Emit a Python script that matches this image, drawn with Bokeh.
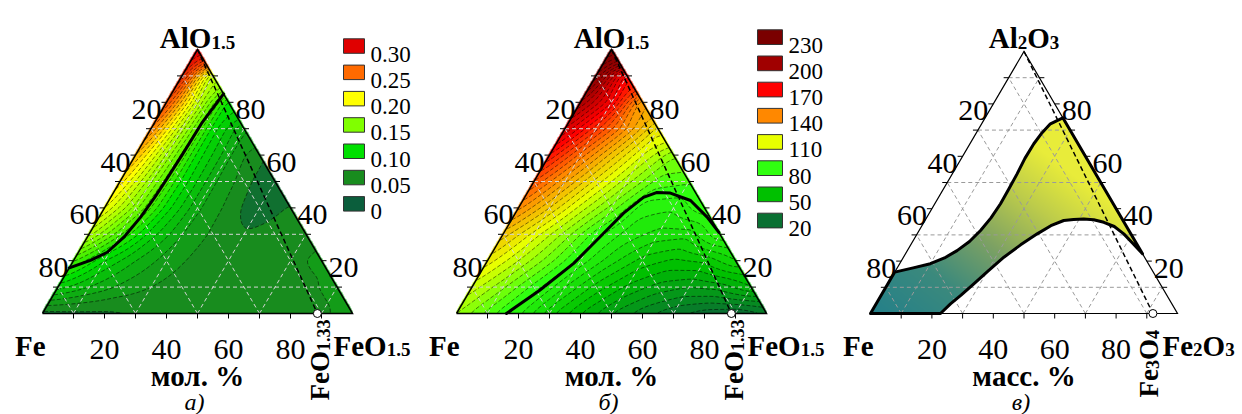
import numpy as np
from bokeh.plotting import figure
from bokeh.models import Range1d
from bokeh.embed import file_html
from bokeh.resources import INLINE
from bokeh.core.properties import value

# ---------------- data ----------------
TICK_LABELS = [20, 40, 60, 80]
GRID_FRACTIONS = [0.1, 0.3, 0.5, 0.7, 0.9]
TICK_FRACTIONS = [0.1, 0.2, 0.3, 0.4, 0.5, 0.6, 0.7, 0.8, 0.9]

# panel (a): field read at nodes; rows = AlO1.5 fraction 0.0 .. 1.0,
# entries = FeO1.5 fraction 0.0 .. (1 - AlO1.5)
A_FIELD_ROWS = [
    [0.045, 0.047, 0.048, 0.050, 0.052, 0.052, 0.052, 0.052, 0.053, 0.058, 0.065],
    [0.095, 0.080, 0.068, 0.060, 0.056, 0.055, 0.055, 0.055, 0.058, 0.063],
    [0.132, 0.100, 0.080, 0.065, 0.057, 0.055, 0.055, 0.058, 0.062],
    [0.175, 0.132, 0.095, 0.070, 0.058, 0.052, 0.055, 0.059],
    [0.202, 0.155, 0.105, 0.072, 0.057, 0.040, 0.052],
    [0.217, 0.162, 0.107, 0.072, 0.055, 0.036],
    [0.232, 0.168, 0.106, 0.072, 0.050],
    [0.252, 0.175, 0.105, 0.070],
    [0.272, 0.182, 0.105],
    [0.292, 0.172],
    [0.310],
]
A_LEGEND_LABELS = ["0.30", "0.25", "0.20", "0.15", "0.10", "0.05", "0"]
A_LEGEND_VALUES = [0.30, 0.25, 0.20, 0.15, 0.10, 0.05, 0.0]
A_LEGEND_COLORS = ["#e00000", "#ff6a00", "#ffff00", "#80ff00", "#00e000", "#188c1e", "#0b5e3c"]
A_LEVEL_STEP = 0.01
A_LOW_BAND_VALUE = 0.02
A_THICK_AL = [0.173, 0.201, 0.232, 0.289, 0.365, 0.441, 0.504, 0.600, 0.720, 0.832]
A_THICK_FEO15 = [0.000, 0.054, 0.093, 0.118, 0.134, 0.142, 0.146, 0.150, 0.153, 0.168]

# panel (b)
B_FIELD_ROWS = [
    [100, 88, 76, 62, 50, 40, 32, 26, 22, 20, 25],
    [108, 96, 83, 70, 58, 49, 43, 40, 42, 50],
    [118, 105, 92, 78, 67, 58, 54, 56, 65],
    [128, 113, 98, 82, 73, 68, 67, 80],
    [142, 125, 108, 93, 77, 76, 84],
    [155, 136, 118, 102, 88, 86],
    [170, 148, 128, 110, 96],
    [185, 162, 140, 118],
    [200, 176, 135],
    [215, 170],
    [230],
]
B_LEGEND_LABELS = ["230", "200", "170", "140", "110", "80", "50", "20"]
B_LEGEND_VALUES = [230, 200, 170, 140, 110, 80, 50, 20]
B_LEGEND_COLORS = ["#7a0000", "#a00000", "#ff0000", "#ff8800", "#e8ff00", "#30ff10", "#00c000", "#0a7032"]
B_LEVEL_STEP = 5
B_THICK_AL = [0.000, 0.087, 0.190, 0.288, 0.380, 0.440, 0.458, 0.456, 0.428, 0.365, 0.307]
B_THICK_FEO15 = [0.161, 0.224, 0.283, 0.317, 0.349, 0.383, 0.416, 0.462, 0.541, 0.626, 0.693]

# panel (c): region boundary (mass fractions Al2O3, Fe2O3)
C_UPPER_AL = [0.158, 0.175, 0.190, 0.212, 0.240, 0.275, 0.317, 0.365, 0.419, 0.475, 0.533,
              0.592, 0.648, 0.690, 0.724, 0.747]
C_UPPER_FE2O3 = [0.000, 0.055, 0.100, 0.135, 0.162, 0.185, 0.200, 0.210, 0.214, 0.213, 0.211,
                 0.207, 0.208, 0.214, 0.224, 0.253]
C_LOWER_AL = [0.228, 0.268, 0.304, 0.332, 0.348, 0.358, 0.361, 0.359, 0.355, 0.335, 0.304,
              0.262, 0.215, 0.163, 0.113, 0.070, 0.037, 0.000]
C_LOWER_FE2O3 = [0.772, 0.720, 0.673, 0.628, 0.586, 0.548, 0.514, 0.482, 0.452, 0.420, 0.391,
                 0.358, 0.327, 0.302, 0.280, 0.260, 0.242, 0.228]
C_CORNER_VALUES = {"Al2O3": 1.3, "Fe2O3": 0.8, "Fe": 0.0}
C_STOPS = [0.0, 0.3, 0.55, 0.8, 1.0]
C_STOP_COLORS = ["#24808a", "#3c8a7d", "#7da264", "#becd4b", "#e8ec3a"]

FEO133 = 1.33 / 1.5     # FeO1.33 on Fe-FeO1.5 side
FE3O4 = 0.92            # Fe3O4 on Fe-Fe2O3 side (mass)

# ---------------- geometry ----------------
WIDTH, HEIGHT = 1242, 414
BASE = 414 - 313
PANELS = [dict(x0=42.0, W=310.0, H=264.0),
          dict(x0=456.0, W=310.0, H=264.0),
          dict(x0=870.0, W=307.0, H=262.0)]


def Y(ypix):
    return HEIGHT - ypix


def tx(P, a, b):
    return P["x0"] + P["W"] * (np.asarray(b, float) + np.asarray(a, float) / 2.0)


def ty(P, a):
    return BASE + P["H"] * np.asarray(a, float)


def hex2rgb(h):
    h = h.lstrip("#")
    return [int(h[i:i + 2], 16) for i in (0, 2, 4)]


def cmap(v, stops, colors):
    rgb = np.array([hex2rgb(c) for c in colors], float)
    order = np.argsort(stops)
    s = np.asarray(stops, float)[order]
    rgb = rgb[order]
    return np.stack([np.interp(v, s, rgb[:, k]) for k in range(3)], axis=-1)


def node_grid(rows):
    n = len(rows)
    G = np.zeros((n, n))
    for i, row in enumerate(rows):
        for j in range(n):
            G[i, j] = row[min(j, len(row) - 1)]
    return G


def field(G, a, b):
    n = G.shape[0] - 1
    ai = np.clip(a, 0, 1) * n
    bi = np.clip(b, 0, 1) * n
    i0 = np.clip(np.floor(ai).astype(int), 0, n - 1)
    j0 = np.clip(np.floor(bi).astype(int), 0, n - 1)
    fa = ai - i0
    fb = bi - j0
    return (G[i0, j0] * (1 - fa) * (1 - fb) + G[i0 + 1, j0] * fa * (1 - fb)
            + G[i0, j0 + 1] * (1 - fa) * fb + G[i0 + 1, j0 + 1] * fa * fb)


def blur(Z, s):
    r = int(3 * s)
    k = np.exp(-0.5 * (np.arange(-r, r + 1) / s) ** 2)
    k /= k.sum()
    Zp = np.pad(Z, r, mode="edge")
    Z1 = np.apply_along_axis(lambda v: np.convolve(v, k, mode="valid"), 1, Zp)
    return np.apply_along_axis(lambda v: np.convolve(v, k, mode="valid"), 0, Z1)


def pixel_grid(P):
    nx = int(round(P["W"]))
    ny = int(round(P["H"]))
    xs = P["x0"] + 0.5 + np.arange(nx)
    ys = BASE + 0.5 + np.arange(ny)
    X, Yg = np.meshgrid(xs, ys)
    a = (Yg - BASE) / P["H"]
    b = (X - P["x0"]) / P["W"] - a / 2.0
    return xs, ys, a, b, nx, ny


def rgba_image(rgb, alpha_mask):
    ny, nx = alpha_mask.shape
    img = np.zeros((ny, nx), dtype=np.uint32)
    view = img.view(dtype=np.uint8).reshape((ny, nx, 4))
    view[..., 0] = np.clip(rgb[..., 0], 0, 255).astype(np.uint8)
    view[..., 1] = np.clip(rgb[..., 1], 0, 255).astype(np.uint8)
    view[..., 2] = np.clip(rgb[..., 2], 0, 255).astype(np.uint8)
    view[..., 3] = np.where(alpha_mask, 255, 0).astype(np.uint8)
    return img


def inside_poly(px, py, vx, vy):
    inside = np.zeros(px.shape, bool)
    n = len(vx)
    j = n - 1
    for i in range(n):
        xi, yi, xj, yj = vx[i], vy[i], vx[j], vy[j]
        cond = ((yi > py) != (yj > py)) & (px < (xj - xi) * (py - yi) / (yj - yi + 1e-12) + xi)
        inside ^= cond
        j = i
    return inside


p = figure(width=WIDTH, height=HEIGHT, x_range=Range1d(0, WIDTH), y_range=Range1d(0, HEIGHT),
           output_backend="svg", toolbar_location=None, x_axis_location=None,
           y_axis_location=None, min_border=0)
p.grid.visible = False
p.outline_line_color = None
p.background_fill_color = "white"
p.border_fill_color = "white"

FONT = value("Liberation Serif")
W_BOLD = {"A": 0.722, "l": 0.278, "O": 0.778, "F": 0.611, "e": 0.444, ".": 0.25}


def tw(s, size):
    return sum(W_BOLD.get(ch, 0.5) for ch in s) * size


def txt(x, y, s, size, style="normal", align="left", baseline="alphabetic", angle=0.0):
    p.text(x=[x], y=[y], text=[s], text_font=FONT, text_font_size=f"{size}px",
           text_font_style=style, text_align=align, text_baseline=baseline,
           angle=angle, text_color="black")


def compound(x, ybase_pix, pieces, main=29, sub=19, drop=5, center=True):
    total = sum(tw(t, sub if s else main) for t, s in pieces)
    cur = x - total / 2.0 if center else x
    for t, s in pieces:
        size = sub if s else main
        txt(cur, Y(ybase_pix + (drop if s else 0)), t, size, style="bold")
        cur += tw(t, size)


def compound_rot(xbase, ystart_pix, pieces, main=27, sub=18, drop=4):
    cur = Y(ystart_pix)
    for t, s in pieces:
        size = sub if s else main
        txt(xbase + (drop if s else 0), cur, t, size, style="bold", angle=np.pi / 2)
        cur += tw(t, size)


# ---------------- fills and contours ----------------
for idx, (rows, stops, colors, step, lowest) in enumerate([
        (A_FIELD_ROWS, A_LEGEND_VALUES, A_LEGEND_COLORS, A_LEVEL_STEP, 0.05),
        (B_FIELD_ROWS, B_LEGEND_VALUES, B_LEGEND_COLORS, B_LEVEL_STEP, 20)]):
    P = PANELS[idx]
    G = node_grid(rows)
    xs, ys, a, b, nx, ny = pixel_grid(P)
    Z = blur(field(G, a, b), 3.0)
    top = max(stops) + 2 * step
    levels = np.arange(lowest, top + step / 2, step)
    if idx == 0:
        band_levels = np.concatenate([[-1.0], levels])
        band_colors = np.concatenate([[A_LOW_BAND_VALUE], levels])
    else:
        band_levels = levels
        band_colors = levels
    bi_ = np.clip(np.searchsorted(band_levels, Z, side="right") - 1, 0, len(band_levels) - 1)
    rgb = cmap(band_colors[bi_], stops, colors)
    loose = (a >= -0.004) & (b >= -0.005) & (a + b <= 1.005)
    p.image_rgba(image=[rgba_image(rgb, loose)], x=P["x0"], y=BASE, dw=nx, dh=ny)
    strict = (a >= 0) & (b >= 0) & (a + b <= 1)
    Zc = np.where(strict, Z, np.nan)
    line_levels = list(levels[1:]) if idx == 1 else list(levels)
    p.contour(x=xs, y=ys, z=Zc, levels=line_levels, line_color="black",
              line_width=0.6, line_dash="4 2", line_alpha=0.85)

# panel (c) gradient region
Pc = PANELS[2]
xs, ys, a, b, nx, ny = pixel_grid(Pc)
c_ = 1 - a - b
vfield = C_CORNER_VALUES["Al2O3"] * a + C_CORNER_VALUES["Fe2O3"] * b + C_CORNER_VALUES["Fe"] * c_
rgb = cmap(vfield, C_STOPS, C_STOP_COLORS)
poly_a = list(C_UPPER_AL) + list(C_LOWER_AL) + [0.0]
poly_b = list(C_UPPER_FE2O3) + list(C_LOWER_FE2O3) + [0.0]
pvx = tx(Pc, poly_a, poly_b)
pvy = ty(Pc, poly_a)
X, Yg = np.meshgrid(xs, ys)
mask_c = inside_poly(X, Yg, pvx, pvy)
p.image_rgba(image=[rgba_image(rgb, mask_c)], x=Pc["x0"], y=BASE, dw=nx, dh=ny)

# ---------------- grids, edges, ticks ----------------
for idx, P in enumerate(PANELS):
    gx, gy = [], []
    for f in GRID_FRACTIONS:
        gx.append([float(tx(P, f, 0)), float(tx(P, f, 1 - f))]); gy.append([float(ty(P, f))] * 2)
        gx.append([float(tx(P, 0, f)), float(tx(P, 1 - f, f))]); gy.append([float(ty(P, 0)), float(ty(P, 1 - f))])
        gx.append([float(tx(P, 0, 1 - f)), float(tx(P, 1 - f, 0))]); gy.append([float(ty(P, 0)), float(ty(P, 1 - f))])
    gcol = "#d4d4d4" if idx < 2 else "#9a9a9a"
    p.multi_line(xs=gx, ys=gy, line_color=gcol, line_width=1, line_dash="4 3")

# thick curves
p.line(x=tx(PANELS[0], A_THICK_AL, A_THICK_FEO15), y=ty(PANELS[0], A_THICK_AL),
       line_color="black", line_width=3, line_join="round", line_cap="round")
p.line(x=tx(PANELS[1], B_THICK_AL, B_THICK_FEO15), y=ty(PANELS[1], B_THICK_AL),
       line_color="black", line_width=3, line_join="round", line_cap="round")

# dashed joins apex -> FeO1.33 / Fe3O4
for P, frac in [(PANELS[0], FEO133), (PANELS[1], FEO133), (PANELS[2], FE3O4)]:
    p.line(x=[float(tx(P, 1, 0)), float(tx(P, 0, frac))], y=[float(ty(P, 1)), float(ty(P, 0))],
           line_color="black", line_width=1.5, line_dash="5 3")

for idx, P in enumerate(PANELS):
    ex = [float(tx(P, 0, 0)), float(tx(P, 0, 1)), float(tx(P, 1, 0)), float(tx(P, 0, 0))]
    ey = [float(ty(P, 0)), float(ty(P, 0)), float(ty(P, 1)), float(ty(P, 0))]
    p.line(x=ex, y=ey, line_color="black", line_width=1.5 if idx < 2 else 1.2, line_join="miter")
    kx, ky = [], []
    for f in TICK_FRACTIONS:
        x = float(tx(P, 0, f)); kx.append([x, x]); ky.append([BASE, BASE - 5])
        x = float(tx(P, f, 0)); y = float(ty(P, f)); kx.append([x, x - 5]); ky.append([y, y])
        x = float(tx(P, f, 1 - f)); kx.append([x, x + 5]); ky.append([y, y])
    p.multi_line(xs=kx, ys=ky, line_color="black", line_width=1)

# region (c) outline
p.line(x=list(pvx) + [pvx[0]], y=list(pvy) + [pvy[0]], line_color="black", line_width=3,
       line_join="round")

# composition markers
for P, frac in [(PANELS[0], FEO133), (PANELS[1], FEO133), (PANELS[2], FE3O4)]:
    p.scatter(x=[float(tx(P, 0, frac))], y=[BASE], size=8, marker="circle",
              fill_color="white", line_color="black", line_width=1)

# ---------------- legends ----------------
for labels, colors, xl, xr, top0, stepy, hgt, xt in [
        (A_LEGEND_LABELS, A_LEGEND_COLORS, 343, 364, 38.3, 26.3, 14.5, 370),
        (B_LEGEND_LABELS, B_LEGEND_COLORS, 757, 782, 29.3, 26.2, 14.7, 788)]:
    tops = [top0 + i * stepy for i in range(len(labels))]
    p.quad(left=[xl] * len(labels), right=[xr] * len(labels),
           top=[Y(t) for t in tops], bottom=[Y(t + hgt) for t in tops],
           fill_color=colors, line_color="#333333", line_width=1)
    for lab, t in zip(labels, tops):
        txt(xt, Y(t + hgt / 2 + 8), lab, 23)

# ---------------- texts ----------------
TITLES = [[("AlO", 0), ("1.5", 1)], [("AlO", 0), ("1.5", 1)],
          [("Al", 0), ("2", 1), ("O", 0), ("3", 1)]]
RIGHT_NAMES = [[("FeO", 0), ("1.5", 1)], [("FeO", 0), ("1.5", 1)],
               [("Fe", 0), ("2", 1), ("O", 0), ("3", 1)]]
ROT_NAMES = [[("FeO", 0), ("1.33", 1)], [("FeO", 0), ("1.33", 1)],
             [("Fe", 0), ("3", 1), ("O", 0), ("4", 1)]]
UNITS = ["мол. %", "мол. %", "масс. %"]
LETTERS = ["а)", "б)", "в)"]
ROT_X = [319.0, 733.0, 1148.0]
ROT_Y0 = [400, 400, 397]
RIGHT_SHIFT = [19, 19, 15]

for idx, P in enumerate(PANELS):
    apex_x = float(tx(P, 1, 0))
    compound(apex_x, 37, TITLES[idx], main=29, sub=19, drop=5)
    compound(P["x0"] + P["W"] - RIGHT_SHIFT[idx], 345, RIGHT_NAMES[idx], main=29, sub=19,
             drop=4, center=False)
    txt(P["x0"] + 3, Y(345), "Fe", 29, style="bold", align="right")
    compound_rot(ROT_X[idx], ROT_Y0[idx], ROT_NAMES[idx])
    txt(apex_x, Y(375), UNITS[idx], 29, style="bold", align="center")
    txt(apex_x - 3, Y(401), LETTERS[idx], 24, style="italic", align="center")
    for v in TICK_LABELS:
        txt(float(tx(P, 0, v / 100)), Y(349), str(v), 30, align="center")
        al = 1 - v / 100
        txt(float(tx(P, al, 0)) - 5, float(ty(P, al)) - 7, str(v), 30, align="right")
        ar = v / 100
        txt(float(tx(P, ar, 1 - ar)) + 7, float(ty(P, ar)) - 7, str(v), 30, align="left")

open("out.html", "w").write(file_html(p, INLINE))
